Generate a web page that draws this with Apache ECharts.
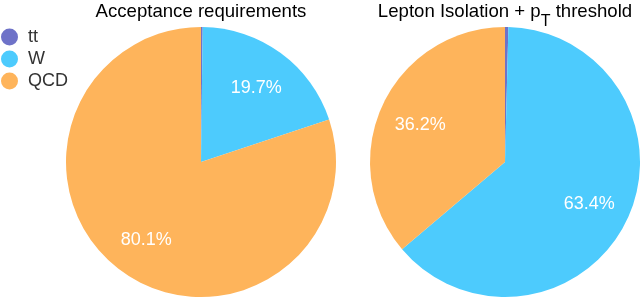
<!DOCTYPE html>
<html><head><meta charset="utf-8">
<script src="https://cdn.jsdelivr.net/npm/echarts@6/dist/echarts.min.js"></script>
<style>html,body{margin:0;padding:0;background:#fff}#c{width:640px;height:299px}</style>
</head><body><div id="c"></div>
<script>
var categories = ['tt', 'W', 'QCD'];
var acceptanceValues = [0.2, 19.7, 80.1];
var isolationValues = [0.4, 63.4, 36.2];
var titleLeft = 'Acceptance requirements';
var titleRightParts = ['Lepton Isolation + p', 'T', ' threshold'];
var colors = ['#6E72C8', '#4DCBFD', '#FEB45B'];

var FONT = 'Liberation Sans';
function toData(vals){ return categories.map(function(n,i){ return {name:n, value:vals[i]}; }); }
function pieSeries(vals, cx){
  return {
    type:'pie', center:[cx,162], radius:[0,135], startAngle:90, clockwise:true,
    label:{show:false}, labelLine:{show:false}, emphasis:{disabled:true},
    itemStyle:{borderWidth:0}, data:toData(vals)
  };
}
function labelSeries(vals, cx){
  return {
    type:'pie', center:[cx,164], radius:[46,135], startAngle:90, clockwise:true, silent:true,
    avoidLabelOverlap:false, emphasis:{disabled:true},
    itemStyle:{color:'rgba(0,0,0,0)', borderWidth:0},
    label:{show:true, position:'inside', color:'#fff', fontSize:18, fontFamily:FONT,
      formatter:function(p){ return p.name==='tt' ? '' : p.value + '%'; }},
    labelLine:{show:false}, data:toData(vals)
  };
}
var chart = echarts.init(document.getElementById('c'), null, {renderer:'canvas'});
var richStyles = {
  n:{fontSize:18.6, fontFamily:FONT, color:'#444', lineHeight:22},
  sub:{fontSize:16, fontFamily:FONT, color:'#444', lineHeight:16, padding:[20,0,0,0]}
};
chart.setOption({
  animation:false,
  color:colors,
  legend:{
    data:categories, orient:'vertical', left:1, top:28, padding:0,
    itemWidth:17, itemHeight:17, itemGap:4, icon:'circle',
    textStyle:{fontSize:18, fontFamily:FONT, color:'#333', padding:[0,0,0,5]}
  },
  graphic:[
    {type:'text', x:201, y:1, style:{text:'{n|'+titleLeft+'}', rich:richStyles, align:'center', verticalAlign:'top'}},
    {type:'text', x:505, y:1, style:{text:'{n|'+titleRightParts[0]+'}{sub|'+titleRightParts[1]+'}{n|'+titleRightParts[2]+'}', rich:richStyles, align:'center', verticalAlign:'top'}}
  ],
  series:[
    pieSeries(acceptanceValues, 201), pieSeries(isolationValues, 505),
    labelSeries(acceptanceValues, 201), labelSeries(isolationValues, 505)
  ]
});
</script></body></html>
